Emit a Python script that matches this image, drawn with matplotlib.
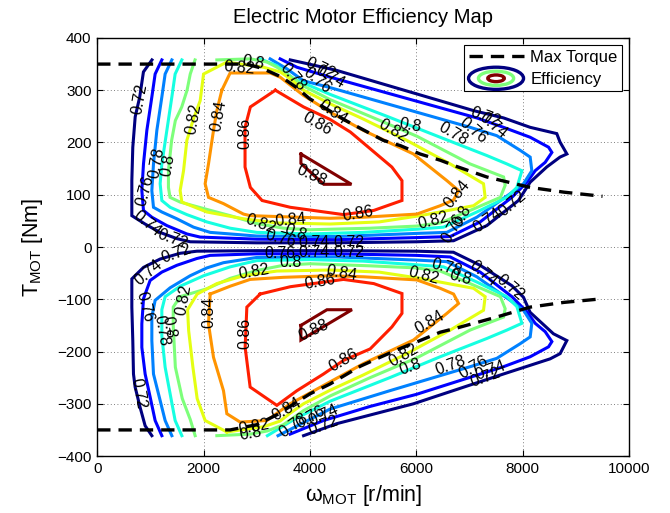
import matplotlib
matplotlib.use("Agg")
import matplotlib.pyplot as plt
from matplotlib.lines import Line2D
from matplotlib.patches import Ellipse
from matplotlib.legend_handler import HandlerBase

plt.rcParams["font.family"] = ["Liberation Sans", "DejaVu Sans"]
plt.rcParams["mathtext.fontset"] = "custom"
plt.rcParams["mathtext.rm"] = "Liberation Sans"

LEVELS = [0.72, 0.74, 0.76, 0.78, 0.80, 0.82, 0.84, 0.86, 0.88]

# max torque envelope (speed r/min, torque Nm)
max_torque_pos = [(0, 350), (2800, 350), (3100, 342), (3470, 325), (3750, 305), (3990, 284),
                  (4690, 241), (5380, 204), (5700, 194), (6070, 178), (6450, 166), (6760, 154),
                  (7325, 134), (8140, 114), (8770, 105), (9500, 97)]
max_torque_neg = [(0, -350), (2500, -350), (3000, -340), (3400, -320), (3700, -300), (4000, -281),
                  (4380, -262), (4950, -228), (5320, -211), (5700, -194), (6070, -179), (6450, -163),
                  (6760, -155), (7510, -134), (8140, -115), (8770, -106), (9500, -99)]

# efficiency iso-lines, motoring quadrant
eff_072_pos = [(1030, 358), (870, 335), (800, 287), (715, 249), (670, 191), (652, 127), (652, 60),
               (900, 44), (1180, 28), (1500, 16), (1750, 10), (3000, 8), (4500, 8), (6000, 10),
               (6700, 12), (7325, 41), (7920, 89), (8140, 124), (8450, 153), (8700, 172), (8830, 178),
               (8700, 201), (8640, 217), (8140, 229), (7640, 247), (7075, 261), (4500, 338),
               (3940, 351), (3630, 358)]
eff_074_pos = [(1216, 358), (1090, 331), (1028, 287), (934, 223), (871, 159), (840, 108), (871, 70),
               (1028, 57), (1310, 41), (1686, 25), (1936, 19), (3000, 15), (4500, 14), (6000, 18),
               (6636, 20), (7200, 48), (7796, 95), (8078, 124), (8234, 146), (8422, 162), (8548, 181),
               (8485, 191), (8140, 210), (7639, 229), (7137, 247), (4380, 325), (3754, 344),
               (3440, 360)]
eff_076_pos = [(1404, 358), (1278, 331), (1216, 287), (1122, 223), (1059, 159), (1028, 108),
               (1059, 76), (1216, 67), (1498, 54), (1811, 38), (2124, 28), (3000, 21), (4500, 20),
               (6000, 26), (6573, 28), (7137, 57), (7764, 102), (8014, 121), (8171, 146), (8140, 172),
               (7952, 185), (7513, 213), (7012, 229), (4380, 305), (3879, 318), (3566, 341),
               (3252, 360)]
eff_078_pos = [(1592, 358), (1466, 331), (1404, 287), (1310, 223), (1216, 159), (1184, 121),
               (1216, 89), (1372, 76), (1686, 62), (2062, 48), (2500, 36), (3000, 28), (4000, 25),
               (5000, 28), (6000, 34), (6511, 38), (7137, 67), (7701, 95), (7890, 114), (7984, 146),
               (7701, 159), (7326, 175), (6448, 210), (5500, 248), (4380, 292), (3690, 322),
               (3380, 347), (3060, 360)]
eff_080_pos = [(1840, 358), (1750, 331), (1690, 300), (1590, 268), (1470, 242), (1400, 204),
               (1340, 146), (1340, 114), (1370, 95), (1560, 86), (2060, 72), (2500, 60), (3000, 45),
               (3500, 36), (4000, 33), (5130, 36), (6000, 40), (6450, 46), (7010, 70), (7580, 95),
               (7670, 118), (7640, 134), (7010, 159), (6010, 212), (5130, 250), (4380, 282),
               (3880, 308), (3630, 327), (3380, 344), (3190, 354), (2880, 360), (2250, 358)]
eff_082_pos = [(2440, 354), (2000, 331), (1937, 280), (1810, 245), (1686, 204), (1624, 146),
               (1560, 108), (1592, 86), (2062, 67), (2751, 54), (3378, 46), (4380, 44), (5300, 48),
               (6072, 60), (7075, 79), (7294, 95), (7263, 121), (6636, 159), (5821, 204), (5000, 245),
               (4380, 274), (3879, 300), (3628, 322), (3440, 335), (3127, 344), (2700, 350),
               (2440, 354)]
eff_084_pos = [(2344, 300), (2500, 333), (3252, 333), (3440, 325), (3879, 290), (4380, 258),
               (5007, 223), (5946, 178), (6574, 127), (6793, 108), (6700, 90), (6448, 79), (6010, 63),
               (5007, 57), (4380, 55), (2876, 60), (2751, 63), (2375, 83), (2093, 95), (2030, 121),
               (2093, 159), (2187, 223), (2250, 261), (2344, 300)]
eff_086_pos = [(3350, 300), (3880, 268), (4380, 244), (4760, 220), (5540, 153), (5730, 127),
               (5730, 89), (5200, 70), (4630, 62), (3630, 76), (3100, 89), (2880, 114), (2780, 153),
               (2780, 229), (2880, 268), (3350, 300)]
eff_088_pos = [(3830, 178), (4780, 120), (4260, 120), (3830, 160), (3830, 178)]

# efficiency iso-lines, generating quadrant
eff_072_neg = [(1028, -361), (902, -342), (808, -307), (714, -268), (683, -243), (670, -179),
               (652, -115), (652, -61), (871, -39), (1184, -23), (1560, -12), (1874, -8), (3000, -7),
               (4500, -7), (6000, -8), (6697, -10), (7199, -35), (7795, -74), (8013, -96),
               (8139, -125), (8577, -166), (8829, -179), (8703, -204), (8515, -214), (7637, -243),
               (5945, -300), (4505, -338), (3880, -361)]
eff_074_neg = [(1216, -361), (1090, -332), (996, -287), (902, -243), (840, -192), (840, -147),
               (871, -99), (996, -64), (1216, -48), (1498, -35), (1874, -22), (2124, -16), (3000, -13),
               (4500, -13), (6000, -16), (6636, -19), (7200, -48), (7796, -95), (8078, -124),
               (8234, -146), (8422, -162), (8548, -181), (8485, -191), (8140, -210), (7639, -229),
               (6000, -282), (5132, -305), (4255, -332), (3628, -358)]
eff_076_neg = [(1404, -361), (1278, -332), (1153, -281), (1059, -243), (1028, -179), (1028, -134),
               (1090, -102), (1372, -78), (1748, -55), (2062, -40), (2375, -30), (3000, -20),
               (4500, -19), (6000, -25), (6573, -28), (7137, -57), (7764, -102), (8014, -121),
               (8171, -146), (8140, -172), (7952, -185), (7513, -213), (7012, -229), (5500, -275),
               (4380, -310), (3400, -361)]
eff_078_neg = [(1592, -361), (1466, -332), (1372, -281), (1278, -230), (1216, -170), (1216, -120),
               (1278, -95), (1560, -75), (2000, -55), (2500, -38), (3000, -26), (4000, -24),
               (5000, -27), (6000, -34), (6511, -38), (7137, -67), (7701, -95), (7890, -114),
               (7984, -146), (7701, -159), (7326, -175), (6448, -210), (5500, -250), (4380, -295),
               (3700, -330), (3200, -361)]
eff_080_neg = [(1842, -361), (1750, -330), (1600, -290), (1470, -230), (1430, -150), (1430, -115),
               (1560, -95), (2060, -80), (2500, -60), (3000, -45), (3500, -35), (4000, -32),
               (5130, -36), (6000, -40), (6450, -46), (7010, -70), (7580, -95), (7670, -118),
               (7640, -134), (7010, -159), (6010, -212), (5130, -250), (4380, -285), (3880, -313),
               (3500, -340), (3200, -352), (2880, -358), (2250, -361)]
eff_082_neg = [(2440, -354), (2030, -332), (1880, -290), (1800, -230), (1720, -160), (1700, -120),
               (1880, -90), (2250, -70), (2750, -55), (3380, -46), (4380, -44), (5300, -48),
               (6072, -60), (7075, -79), (7294, -95), (7263, -121), (6636, -159), (5821, -204),
               (5000, -245), (4380, -274), (3879, -300), (3628, -318), (3440, -333), (3127, -344),
               (2700, -350), (2440, -354)]
eff_084_neg = [(2124, -90), (2093, -147), (2187, -211), (2375, -275), (2438, -319), (2688, -335),
               (3190, -332), (3628, -300), (4380, -258), (5007, -223), (5946, -178), (6574, -127),
               (6793, -108), (6700, -90), (6448, -79), (6010, -63), (5007, -57), (4380, -55),
               (3500, -58), (2876, -62), (2500, -75), (2124, -90)]
eff_086_neg = [(3064, -90), (2814, -115), (2782, -192), (2876, -268), (3378, -303), (3754, -275),
               (4255, -243), (4630, -217), (5132, -195), (5540, -153), (5730, -127), (5730, -89),
               (5200, -70), (4630, -62), (3630, -76), (3064, -90)]
eff_088_neg = [(3830, -150), (4320, -120), (4790, -120), (3830, -178), (3830, -150)]

iso_lines = {
    0.72: [eff_072_pos, eff_072_neg],
    0.74: [eff_074_pos, eff_074_neg],
    0.76: [eff_076_pos, eff_076_neg],
    0.78: [eff_078_pos, eff_078_neg],
    0.80: [eff_080_pos, eff_080_neg],
    0.82: [eff_082_pos, eff_082_neg],
    0.84: [eff_084_pos, eff_084_neg],
    0.86: [eff_086_pos, eff_086_neg],
    0.88: [eff_088_pos, eff_088_neg],
}

# inline contour labels: (level, speed, torque, rotation)
labels_pos = [
    (0.72, 808, 284, 80), (0.76, 902, 108, 75), (0.78, 1122, 162, 80), (0.80, 1335, 156, 80),
    (0.82, 1805, 246, 80), (0.84, 2275, 252, 80), (0.86, 2782, 217, 90), (0.88, 4036, 137, -25),
    (0.74, 940, 45, -40), (0.72, 1410, 16, -20), (0.82, 2670, 342, -5), (0.80, 2933, 353, -10),
    (0.78, 3685, 325, -50), (0.76, 4136, 319, -40), (0.74, 4380, 325, -30), (0.72, 4192, 342, -25),
    (0.84, 4437, 257, -35), (0.86, 4136, 236, -30), (0.84, 3628, 51, 5), (0.82, 3064, 44, -20),
    (0.80, 3722, 28, -20), (0.76, 3440, 16, -15), (0.82, 5565, 223, -30), (0.80, 5884, 233, -10),
    (0.78, 6693, 217, -30), (0.76, 7069, 223, -40), (0.74, 7445, 233, -40), (0.72, 7294, 248, -20),
    (0.84, 6768, 102, 50), (0.86, 4907, 64, 10), (0.82, 6317, 51, 15), (0.80, 6862, 60, 60),
    (0.76, 6693, 35, 60), (0.74, 7332, 51, 35), (0.72, 7802, 83, 40), (0.74, 4067, 8, 0),
    (0.72, 4740, 8, 0),
]
labels_neg = [
    (0.72, 777, -281, -80), (0.76, 902, -115, -75), (0.78, 1216, -160, -80), (0.80, 1341, -153, -80),
    (0.74, 965, -48, 40), (0.72, 1498, -13, 20), (0.82, 1624, -102, 80), (0.84, 2093, -125, 90),
    (0.86, 2782, -166, 90), (0.88, 4067, -160, 25), (0.82, 2939, -48, 10), (0.84, 4600, -51, -10),
    (0.86, 4192, -67, 10), (0.76, 3440, -13, 0), (0.80, 3628, -29, 0),
    (0.84, 3566, -310, 30), (0.82, 2939, -345, 10), (0.80, 2876, -358, 10),
    (0.78, 3691, -342, 35), (0.76, 4004, -326, 30), (0.74, 4255, -323, 25), (0.72, 4255, -342, 20),
    (0.86, 4630, -217, 30), (0.84, 6260, -144, 30), (0.82, 5758, -208, 30), (0.80, 5884, -230, 20),
    (0.78, 6636, -227, 20), (0.76, 7075, -230, 30), (0.74, 7388, -236, 20), (0.72, 7294, -249, 20),
    (0.82, 6135, -55, -15), (0.80, 6824, -58, -15), (0.78, 6574, -39, -15), (0.74, 7263, -51, -40),
    (0.72, 7764, -77, -40), (0.74, 4067, -11, 0), (0.72, 4740, -10, 0),
]


class EfficiencyHandler(HandlerBase):
    """Concentric ellipses as the legend key for the iso-efficiency lines."""

    def create_artists(self, legend, orig_handle, xdescent, ydescent,
                       width, height, fontsize, trans):
        cx = 0.5 * width - xdescent
        cy = 0.5 * height - ydescent
        artists = []
        for scale, color in zip((1.0, 0.64, 0.3), orig_handle.colors):
            artists.append(Ellipse((cx, cy), width * scale, 1.9 * height * scale,
                                   fill=False, edgecolor=color, lw=2.4, transform=trans))
        return artists


class EfficiencyKey:
    def __init__(self, colors):
        self.colors = colors


cmap = plt.get_cmap("jet")
colors = {lvl: cmap(i / (len(LEVELS) - 1)) for i, lvl in enumerate(LEVELS)}

fig = plt.figure(figsize=(6.70, 5.13), dpi=100)
ax = fig.add_axes([0.145, 0.111, 0.794, 0.815])

for lvl in LEVELS:
    for line in iso_lines[lvl]:
        xs = [p[0] for p in line]
        ys = [p[1] for p in line]
        ax.plot(xs, ys, color=colors[lvl], lw=2.2, solid_joinstyle="miter", zorder=2)

for curve in (max_torque_pos, max_torque_neg):
    ax.plot([p[0] for p in curve], [p[1] for p in curve], color="black", lw=2.4,
            dashes=(4, 2.4), zorder=3)

for lvl, x, y, rot in labels_pos + labels_neg:
    ax.text(x, y, f"{lvl:g}", rotation=rot, rotation_mode="anchor", ha="center",
            va="center", fontsize=11.5, color="black", zorder=4)

ax.set_xlim(0, 10000)
ax.set_ylim(-400, 400)
ax.set_xticks(range(0, 10001, 2000))
ax.set_yticks(range(-400, 401, 100))
ax.set_yticklabels([str(v).replace("-", "\u2212") for v in range(-400, 401, 100)])
ax.grid(True, linestyle=(0, (1, 3)), color="#555555", lw=0.6)
ax.tick_params(direction="in", top=True, right=True, labelsize=11, length=4, pad=4)
for spine in ax.spines.values():
    spine.set_linewidth(1.0)

ax.set_title("Electric Motor Efficiency Map", fontsize=14.5, pad=11)
ax.set_xlabel("\u03c9$_{\\mathrm{MOT}}$ [r/min]", fontsize=15.5, labelpad=5)
ax.set_ylabel("T$_{\\mathrm{MOT}}$ [Nm]", fontsize=15.5, labelpad=9)

key = EfficiencyKey([colors[0.72], colors[0.80], colors[0.88]])
torque_handle = Line2D([], [], color="black", lw=2.4, dashes=(4, 2.4))
leg = ax.legend([torque_handle, key], ["Max Torque", "Efficiency"],
                handler_map={EfficiencyKey: EfficiencyHandler()},
                loc="upper right", fontsize=12, fancybox=False, framealpha=1,
                edgecolor="black", handlelength=3.3, borderaxespad=0.45,
                handletextpad=0.4, borderpad=0.25, labelspacing=0.45)
leg.get_frame().set_linewidth(0.8)

fig.savefig("out.png", dpi=100)
